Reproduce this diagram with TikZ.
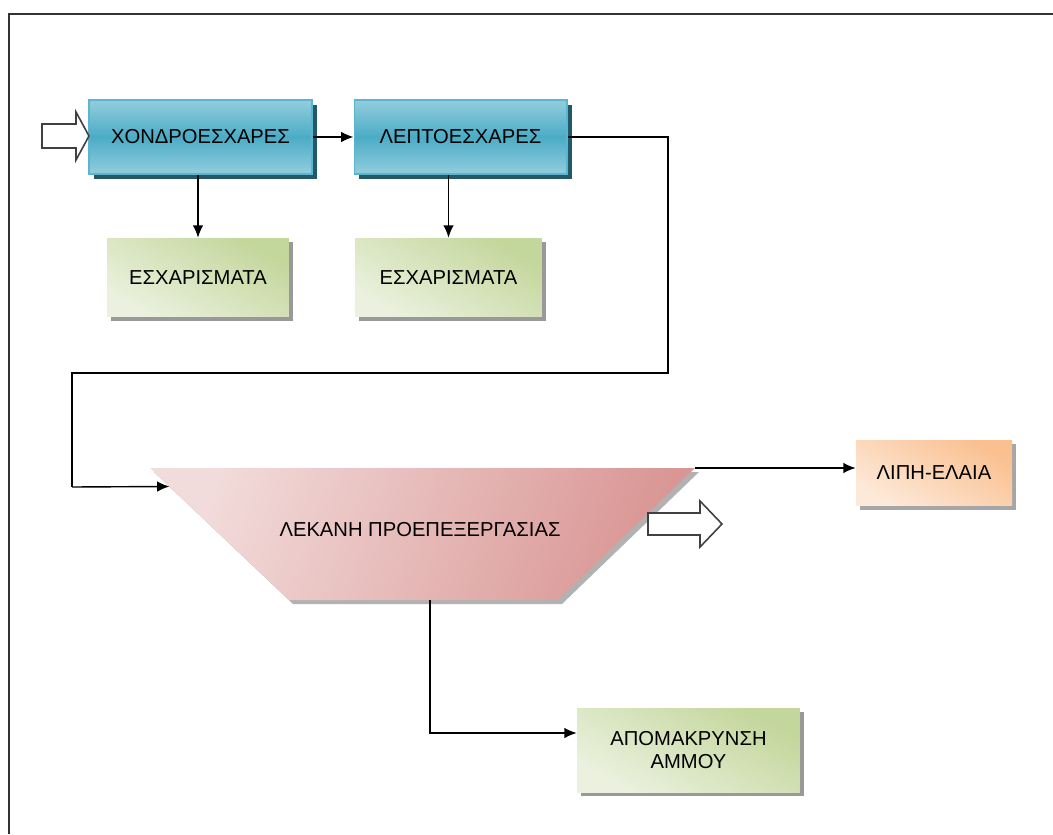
\documentclass[tikz,border=0pt]{standalone}
\usepackage{fontspec}
\setmainfont{Liberation Sans}
\usetikzlibrary{arrows.meta, shadows, calc}

\definecolor{bluetop}{HTML}{93CDDD}
\definecolor{bluemid}{HTML}{4BACC6}
\definecolor{blueline}{HTML}{5BB5CF}
\definecolor{blueshade}{HTML}{215968}
\definecolor{greendark}{HTML}{C3D69B}
\definecolor{greenlight}{HTML}{EBF1DE}
\definecolor{orangedark}{HTML}{FAC090}
\definecolor{orangelight}{HTML}{FDE9D9}
\definecolor{pinkdark}{HTML}{D99694}
\definecolor{pinklight}{HTML}{F2DCDB}

\tikzset{
  screen/.style={rectangle, draw=blueline, line width=0.6pt,
    top color=bluetop, bottom color=bluetop, middle color=bluemid,
    minimum height=1.48cm, font=\fontsize{11.5}{13}\selectfont,
    drop shadow={shadow xshift=0.1cm, shadow yshift=-0.1cm, fill=blueshade, opacity=1}},
  waste/.style={rectangle, left color=greenlight, right color=greendark, shading angle=150,
    font=\fontsize{11.5}{13}\selectfont, align=center,
    drop shadow={shadow xshift=0.08cm, shadow yshift=-0.08cm, fill=black!40, opacity=1}},
  grease/.style={rectangle, left color=orangelight, right color=orangedark, shading angle=150,
    font=\fontsize{11.5}{13}\selectfont,
    drop shadow={shadow xshift=0.08cm, shadow yshift=-0.08cm, fill=black!35, opacity=1}},
  flow/.style={-{Latex[length=7pt, width=6pt]}, line width=0.8pt},
  pipe/.style={line width=0.8pt},
  hollow/.style={draw=black!75, line width=0.9pt, fill=white}
}

\begin{document}
\begin{tikzpicture}[x=0.02cm, y=-0.02cm]
  \useasboundingbox (0,0) rectangle (1053,834);

  % frame
  \draw[line width=1.2pt, black!80] (9,834) -- (9,14) -- (1053,14);

  % screens
  \node[screen, minimum width=4.46cm] (coarse) at (200.5,137) {ΧΟΝΔΡΟΕΣΧΑΡΕΣ};
  \node[screen, minimum width=4.26cm] (fine) at (460.5,137) {ΛΕΠΤΟΕΣΧΑΡΕΣ};
  \node[waste, minimum width=3.64cm, minimum height=1.58cm] (chaffa) at (198,277.5) {ΕΣΧΑΡΙΣΜΑΤΑ};
  \node[waste, minimum width=3.74cm, minimum height=1.58cm] (chaffb) at (448.5,277.5) {ΕΣΧΑΡΙΣΜΑΤΑ};

  % basin
  \coordinate (tl) at (150,468);
  \coordinate (tr) at (695,468);
  \coordinate (br) at (558,600);
  \coordinate (bl) at (289,600);
  \fill[black!30] ($(tl)+(4,4)$) -- ($(tr)+(4,4)$) -- ($(br)+(4,4)$) -- ($(bl)+(4,4)$) -- cycle;
  \path[left color=pinklight, right color=pinkdark, shading angle=70]
    (tl) -- (tr) -- (br) -- (bl) -- cycle;
  \node[font=\fontsize{11.5}{13}\selectfont] (basin) at (420,530) {ΛΕΚΑΝΗ ΠΡΟΕΠΕΞΕΡΓΑΣΙΑΣ};
  \coordinate (basin-in) at ($(tl)!0.14!(bl)$);
  \coordinate (basin-out) at (430,600);

  \node[grease, minimum width=3.12cm, minimum height=1.32cm] (fat) at (934,473) {ΛΙΠΗ-ΕΛΑΙΑ};
  \node[waste, minimum width=4.46cm, minimum height=1.68cm] (sand) at (688.5,750)
    {ΑΠΟΜΑΚΡΥΝΣΗ\\ΑΜΜΟΥ};

  % hollow arrows
  \draw[hollow] (42,124) -- (76,124) -- (76,112) -- (89,136) -- (76,160) -- (76,148) -- (42,148) -- cycle;
  \draw[hollow] (648,513) -- (700,513) -- (700,501) -- (722,524) -- (700,547) -- (700,535) -- (648,535) -- cycle;

  % connectors
  \draw[flow] (coarse) -- (fine);
  \draw[flow] (coarse.south -| chaffa.north) -- (chaffa.north);
  \draw[flow] (fine.south -| chaffb.north) -- (chaffb.north);
  \draw[pipe] (fine.east) -| (668,373) -| (72,487);
  \draw[flow] (72,487) -- (basin-in);
  \draw[flow] (tr) -- (tr -| fat.west);
  \draw[flow] (basin-out) |- ([yshift=0.34cm]sand.west);
\end{tikzpicture}
\end{document}
